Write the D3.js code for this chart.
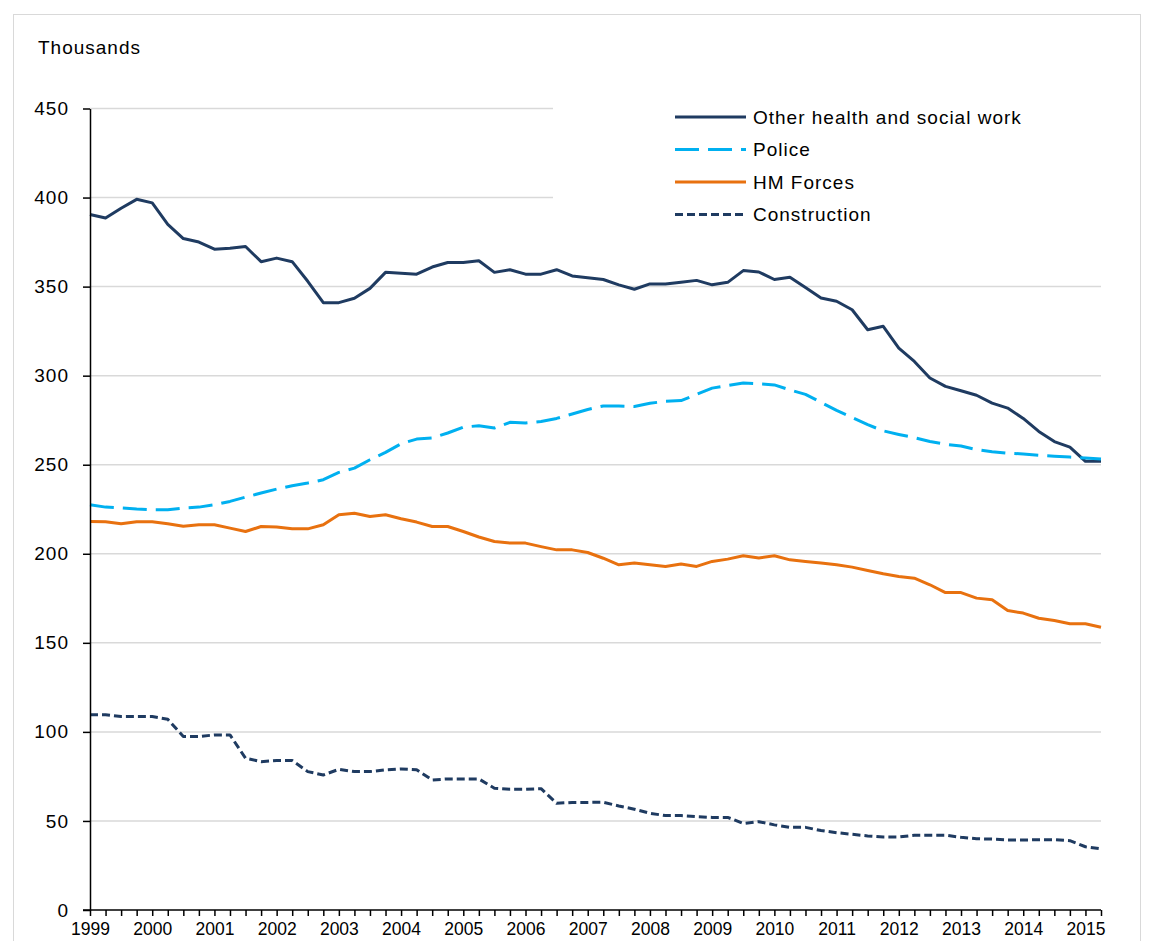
<!DOCTYPE html>
<meta charset="utf-8">
<style>
body { margin: 0; background: #fff; }
svg { display: block; font-family: "Liberation Sans", Arial, sans-serif; }
.axis path, .axis line { stroke: #000; stroke-width: 1.5; }
.axis text { fill: #000; }
.grid line { stroke: #d9d9d9; stroke-width: 1.5; }
.series { fill: none; stroke-width: 3; stroke-linejoin: round; }
</style>
<svg width="1154" height="941"></svg>
<script src="https://cdn.jsdelivr.net/npm/d3@7"></script>
<script>

// quarterly, 1999 Q1 .. 2015 Q2
var years = [1999, 2000, 2001, 2002, 2003, 2004, 2005, 2006, 2007,
             2008, 2009, 2010, 2011, 2012, 2013, 2014, 2015];
var yTicks = [0, 50, 100, 150, 200, 250, 300, 350, 400, 450];

var health = [390.5, 388.5, 394, 399, 397, 385, 377, 375, 371, 371.5,
  372.5, 364, 366, 364, 353, 341, 341, 343.5, 349, 358,
  357.5, 357, 361, 363.5, 363.5, 364.5, 358, 359.5, 357, 357,
  359.5, 356, 355, 354, 351, 348.5, 351.5, 351.5, 352.5, 353.5,
  351, 352.4, 359, 358.2, 354, 355.2, 349.5, 343.6, 341.8, 337,
  325.8, 327.7, 315.5, 308, 298.7, 294, 291.5, 289, 284.6, 281.8,
  276, 268.7, 263, 259.9, 251.9, 251.9];

var police = [227.5, 226.2, 225.7, 225.1, 224.7, 224.7, 225.7, 226.2, 227.5, 229.4,
  231.8, 234.1, 236.3, 238.2, 239.7, 241.6, 245.7, 248.1, 252.8, 256.9,
  261.8, 264.4, 265, 267.8, 271.1, 271.9, 270.6, 273.8, 273.4, 274.3,
  276, 278.5, 281, 283, 283, 282.7, 284.5, 285.6, 286, 289.5,
  293, 294.5, 295.9, 295.5, 294.8, 292, 289.5, 285, 280.5, 276.5,
  272.5, 269, 267, 265.2, 263, 261.5, 260.5, 258.5, 257.3, 256.5,
  256, 255.3, 254.8, 254.3, 253.8, 253.2];

var forces = [218.1, 218, 216.9, 218, 218, 216.9, 215.4, 216.3, 216.3, 214.4,
  212.5, 215.3, 215, 214, 214, 216.3, 221.9, 222.8, 220.9, 221.9,
  219.7, 217.8, 215.3, 215.3, 212.5, 209.4, 206.9, 206, 206, 204,
  202.2, 202.2, 200.7, 197.5, 193.8, 194.8, 193.8, 192.9, 194.2, 192.9,
  195.7, 197, 198.9, 197.6, 198.9, 196.6, 195.7, 194.8, 193.8, 192.5,
  190.6, 188.8, 187.3, 186.3, 182.6, 178.2, 178.2, 175.1, 174.2, 168.1,
  166.7, 163.8, 162.5, 160.7, 160.7, 158.8];

var construction = [109.6, 109.6, 108.6, 108.6, 108.6, 107.1, 97.4, 97.4, 98.3, 98.3,
  85.2, 83.3, 83.9, 83.9, 77.7, 75.8, 79, 77.7, 77.7, 78.7,
  79.2, 78.7, 73, 73.6, 73.6, 73.6, 68.4, 67.8, 67.8, 68.1,
  59.9, 60.4, 60.4, 60.5, 58.4, 56.6, 54.3, 53, 53, 52.4,
  52, 52, 48.6, 49.6, 47.8, 46.4, 46.4, 44.6, 43.4, 42.5,
  41.6, 41, 41, 42, 42, 42, 40.8, 40, 39.8, 39.3,
  39.3, 39.5, 39.5, 38.9, 35.5, 34.3];

var quarters = [];
years.forEach(function(yr) {
  [1, 2, 3, 4].forEach(function(q) { quarters.push(yr + " Q" + q); });
});
quarters = quarters.slice(0, health.length);

var series = [
  {name: "Other health and social work", values: health, color: "#1f3b61", dash: null},
  {name: "Police", values: police, color: "#00b0f0", dash: "24,9"},
  {name: "HM Forces", values: forces, color: "#e8710f", dash: null},
  {name: "Construction", values: construction, color: "#1f3b61", dash: "8,4"}
];

var svg = d3.select("svg");
var plotLeft = 90, plotRight = 1101, plotTop = 108.5, plotBottom = 910;

var x = d3.scalePoint().domain(quarters).range([plotLeft, plotRight]);
var y = d3.scaleLinear().domain([0, 450]).range([plotBottom, plotTop]);

// outer frame
svg.append("rect")
    .attr("x", 13.5).attr("y", 14.5)
    .attr("width", 1127).attr("height", 1000)
    .attr("fill", "none").attr("stroke", "#d9d9d9");

svg.append("text")
    .attr("x", 38).attr("y", 54)
    .attr("font-size", 19).attr("letter-spacing", 1)
    .text("Thousands");

// gridlines
svg.append("g").attr("class", "grid")
  .selectAll("line")
  .data(yTicks.filter(function(d) { return d > 0; }))
  .enter().append("line")
    .attr("x1", plotLeft).attr("x2", plotRight)
    .attr("y1", function(d) { return y(d); })
    .attr("y2", function(d) { return y(d); });

// legend box hides the top gridlines
var lg = svg.append("g");
lg.append("rect")
    .attr("x", 553).attr("y", 92)
    .attr("width", 560).attr("height", 140)
    .attr("fill", "#fff");

var line = d3.line()
    .x(function(d, i) { return x(quarters[i]); })
    .y(function(d) { return y(d); });

svg.selectAll(".series")
  .data(series)
  .enter().append("path")
    .attr("class", "series")
    .attr("stroke", function(d) { return d.color; })
    .attr("stroke-dasharray", function(d) { return d.dash; })
    .attr("d", function(d) { return line(d.values); });

// axes
var yAxis = svg.append("g")
    .attr("class", "axis")
    .attr("transform", "translate(" + plotLeft + ",0)")
    .call(d3.axisLeft(y).tickValues(yTicks).tickSize(7).tickSizeOuter(0).tickPadding(14));
yAxis.selectAll("text").attr("font-size", 19).attr("letter-spacing", 1);

var xAxis = svg.append("g")
    .attr("class", "axis")
    .attr("transform", "translate(0," + plotBottom + ")")
    .call(d3.axisBottom(x).tickSize(6).tickSizeOuter(0).tickPadding(7)
      .tickFormat(function(d) { return d.slice(-2) == "Q1" ? d.slice(0, 4) : ""; }));
xAxis.selectAll("text").attr("font-size", 17.5);
xAxis.select(".domain").attr("d", "M" + (plotLeft - 7) + ",0H" + plotRight);

// legend entries
var items = lg.selectAll(".item")
  .data(series)
  .enter().append("g")
    .attr("transform", function(d, i) { return "translate(0," + (117 + i * 32.5) + ")"; });

items.append("line")
    .attr("x1", 675).attr("x2", 746)
    .attr("stroke", function(d) { return d.color; })
    .attr("stroke-width", 3)
    .attr("stroke-dasharray", function(d) { return d.dash; });

items.append("text")
    .attr("x", 753).attr("dy", "0.35em")
    .attr("font-size", 19).attr("letter-spacing", 1)
    .text(function(d) { return d.name; });

</script>
